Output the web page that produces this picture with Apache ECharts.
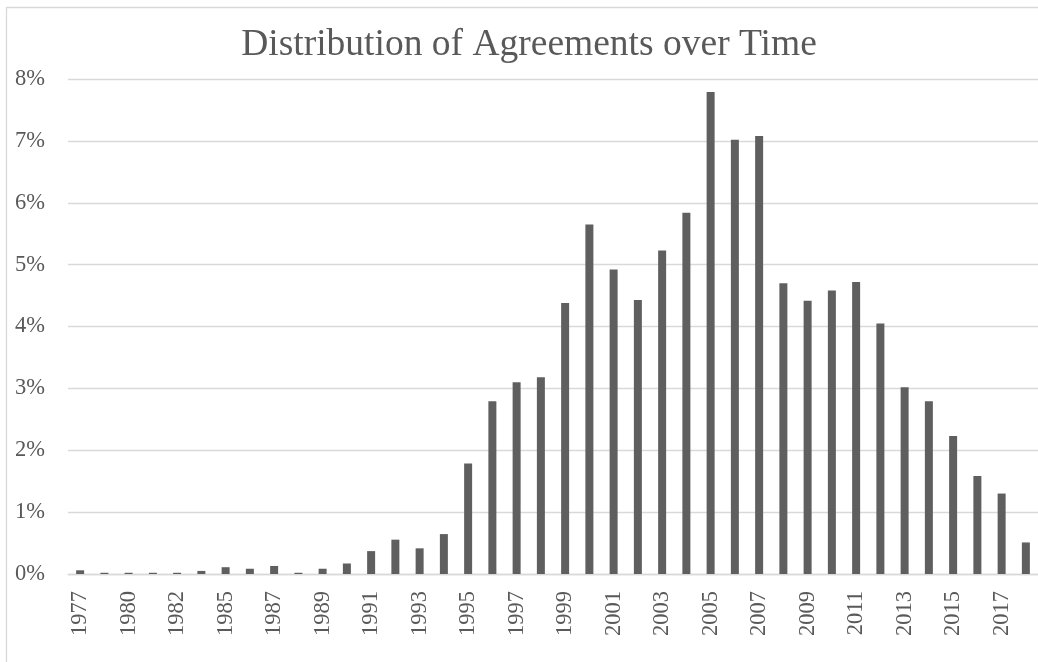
<!DOCTYPE html>
<html>
<head>
<meta charset="utf-8">
<title>Distribution of Agreements over Time</title>
<script src="https://cdn.jsdelivr.net/npm/echarts@6/dist/echarts.min.js"></script>
<style>
  html, body { margin: 0; padding: 0; background: #ffffff; }
  #chart { width: 1038px; height: 662px; }
</style>
</head>
<body>
<div id="chart"></div>
<script>
// Years with at least one agreement (a few early years have none)
const years = [
  '1977', '1979', '1980', '1981', '1982', '1984', '1985', '1986', '1987', '1988',
  '1989', '1990', '1991', '1992', '1993', '1994', '1995', '1996', '1997', '1998',
  '1999', '2000', '2001', '2002', '2003', '2004', '2005', '2006', '2007', '2008',
  '2009', '2010', '2011', '2012', '2013', '2014', '2015', '2016', '2017', '2018'
];

// Share of all agreements signed in each year, in percent
const sharePct = [
  0.06, 0.02, 0.02, 0.02, 0.02, 0.05, 0.11, 0.085, 0.13, 0.02,
  0.085, 0.17, 0.37, 0.555, 0.415, 0.645, 1.785, 2.79, 3.10, 3.18,
  4.38, 5.65, 4.92, 4.43, 5.23, 5.84, 7.79, 7.02, 7.08, 4.70,
  4.415, 4.58, 4.72, 4.05, 3.02, 2.79, 2.23, 1.585, 1.30, 0.51
];

// Value axis ticks, in percent
const yTicks = { min: 0, max: 8, step: 1 };

const titleText = 'Distribution of Agreements over Time';

const serif = "'Liberation Serif', 'Times New Roman', Times, serif";
const textGrey = '#595959';
const lineGrey = '#d9d9d9';

const chart = echarts.init(document.getElementById('chart'), null, { renderer: 'canvas' });

chart.setOption({
  animation: false,
  backgroundColor: '#ffffff',
  graphic: [
    {
      // chart area frame
      type: 'rect',
      shape: { x: 6.5, y: 7.5, width: 1200, height: 1000 },
      style: { fill: 'none', stroke: lineGrey, lineWidth: 1.3 },
      silent: true
    },
    {
      type: 'text',
      x: 529,
      y: 45,
      style: {
        text: titleText,
        fill: textGrey,
        font: '37.5px ' + serif,
        align: 'center',
        verticalAlign: 'middle'
      },
      silent: true
    }
  ],
  grid: {
    left: 68,
    top: 79,
    width: 973,
    height: 495,
    containLabel: false
  },
  xAxis: {
    type: 'category',
    data: years,
    axisTick: { show: false },
    axisLine: { show: true, lineStyle: { color: lineGrey, width: 1.3 } },
    axisLabel: {
      interval: 1,
      rotate: 90,
      margin: 17,
      color: textGrey,
      fontFamily: serif,
      fontSize: 22.5
    },
    splitLine: { show: false }
  },
  yAxis: {
    type: 'value',
    min: yTicks.min,
    max: yTicks.max,
    interval: yTicks.step,
    axisLine: { show: false },
    axisTick: { show: false },
    axisLabel: {
      formatter: '{value}%',
      margin: 23,
      color: textGrey,
      fontFamily: serif,
      fontSize: 22.5
    },
    splitLine: { show: true, lineStyle: { color: lineGrey, width: 1.3 } }
  },
  series: [
    {
      type: 'bar',
      data: sharePct,
      barWidth: 8,
      itemStyle: { color: '#5f5f5f' },
      silent: true
    }
  ]
});
</script>
</body>
</html>
